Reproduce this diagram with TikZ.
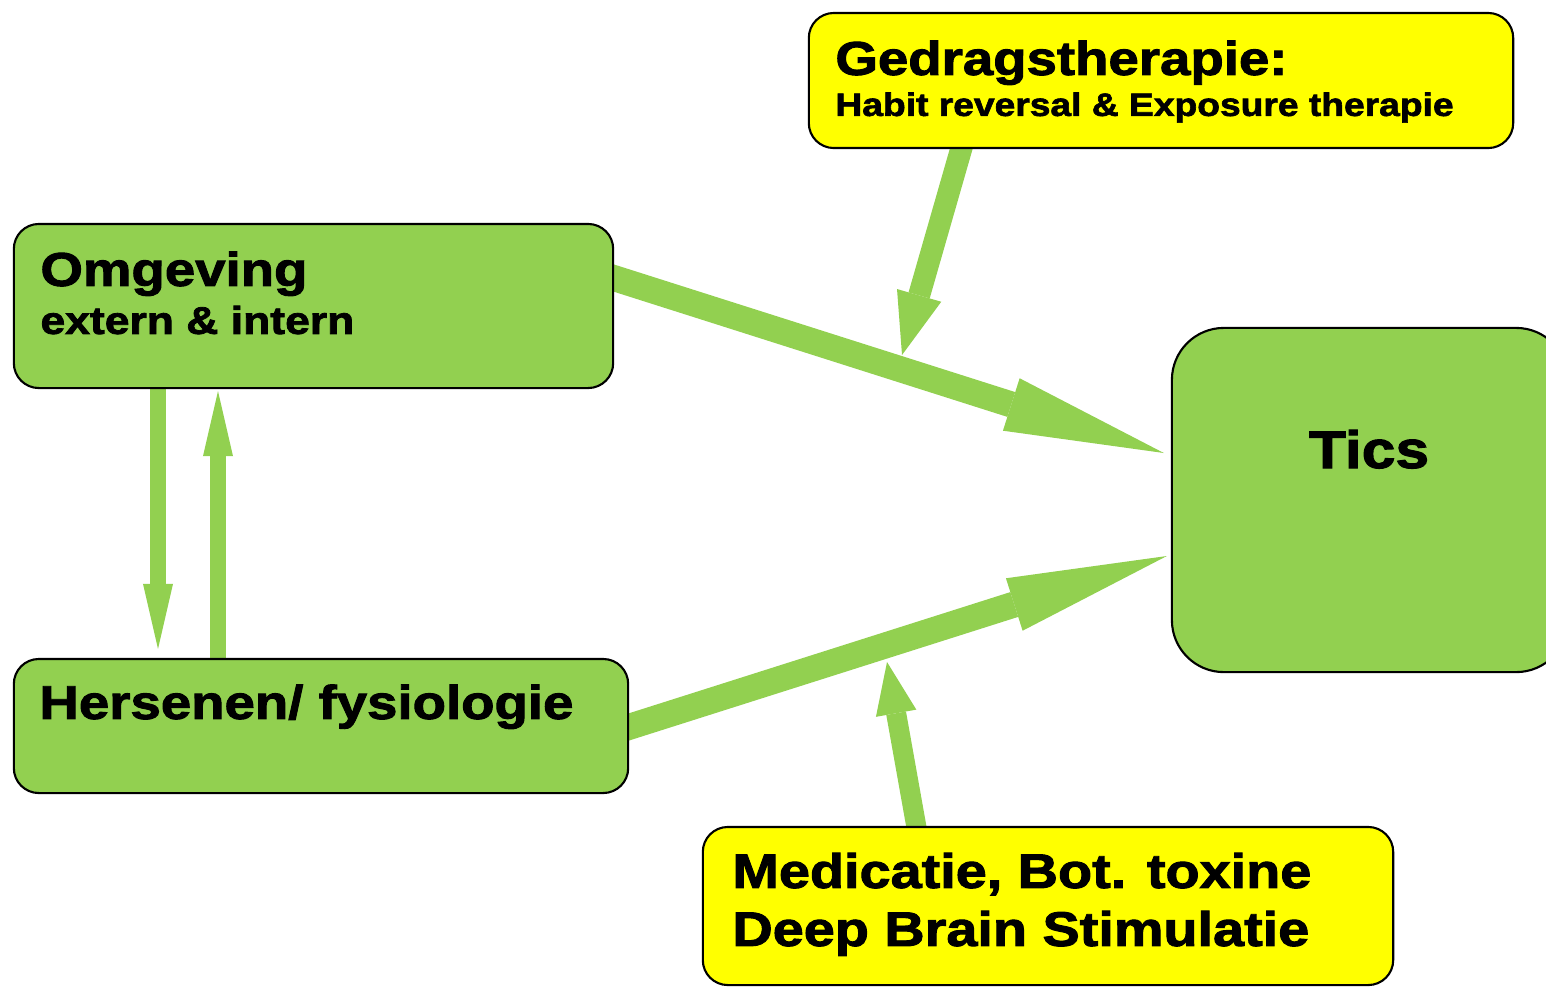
\documentclass[tikz,border=0pt]{standalone}
\usepackage{fontspec}
\setmainfont{Liberation Sans}[FakeStretch=1.15,BoldFeatures={FakeBold=2}]
\usetikzlibrary{arrows.meta,backgrounds}

\definecolor{ticgreen}{HTML}{92D050}
\definecolor{ticyellow}{HTML}{FFFF00}

\tikzset{
  box/.style={draw=black, line width=0.6pt, rounded corners=0.25cm, inner sep=0pt},
  greenbox/.style={box, fill=ticgreen},
  yellowbox/.style={box, fill=ticyellow},
  txt/.style={inner sep=0pt, anchor=base west, font=\bfseries},
  bigarrow/.style={draw=ticgreen, line width=0.26cm, -{Triangle[length=1.6cm,width=0.55cm,line width=0pt]}},
  midarrow/.style={draw=ticgreen, line width=0.22cm, -{Triangle[length=0.62cm,width=0.46cm,line width=0pt]}},
  smallarrow/.style={draw=ticgreen, line width=0.2cm, -{Triangle[length=0.52cm,width=0.41cm,line width=0pt]}},
  vertarrow/.style={draw=ticgreen, line width=0.15cm, -{Triangle[length=0.65cm,width=0.3cm,line width=0pt]}}
}

\begin{document}
\begin{tikzpicture}[x=0.01cm,y=-0.01cm]
\useasboundingbox (0,0) rectangle (1546,987);

% boxes
\node[greenbox, minimum width=5.99cm, minimum height=1.64cm] (omg) at (313.5,306) {};
\node[greenbox, minimum width=6.14cm, minimum height=1.34cm] (hers) at (321,726) {};
\node[greenbox, minimum width=3.96cm, minimum height=3.44cm, rounded corners=0.52cm] (tics) at (1370,500) {};
\node[yellowbox, minimum width=7.04cm, minimum height=1.35cm] (ged) at (1161,80.5) {};
\node[yellowbox, minimum width=6.90cm, minimum height=1.58cm] (med) at (1048,906) {};

% texts
\node[txt] (omgtitle) at ([shift={(27,63)}]omg.north west) {\fontsize{13.5}{16}\selectfont Omgeving};
\node[txt] (omgsub) at ([shift={(27,111)}]omg.north west) {\fontsize{11}{13}\selectfont extern \& intern};
\node[txt] (herstitle) at ([shift={(26,61)}]hers.north west) {\fontsize{13.5}{16}\selectfont Hersenen/ fysiologie};
\node[txt] (gedtitle) at ([shift={(27,63)}]ged.north west) {\fontsize{13.5}{16}\selectfont Gedragstherapie:};
\node[txt] (gedsub) at ([shift={(27,104)}]ged.north west) {\fontsize{9.2}{11}\selectfont Habit reversal \& Exposure therapie};
\node[txt] (medone) at ([shift={(30,62)}]med.north west) {\fontsize{13.8}{16}\selectfont Medicatie, Bot. toxine};
\node[txt] (medtwo) at ([shift={(30,120)}]med.north west) {\fontsize{13.8}{16}\selectfont Deep Brain Stimulatie};
\node[txt, anchor=base] (ticstitle) at ([shift={(-1,-32)}]tics.center) {\fontsize{15}{18}\selectfont Tics};

% points where the therapy arrows hit
\coordinate (gtip) at (902,355);
\coordinate (mtip) at (887,662);

\begin{scope}[on background layer]
\draw[bigarrow] ([shift={(-10,-31)}]omg.east) -- ([shift={(-7,-47)}]tics.west);
\draw[bigarrow] ([shift={(-10,4)}]hers.east) -- ([shift={(-4,56)}]tics.west);
\draw[midarrow] ([shift={(-197,-10)}]ged.south) -- (gtip);
\draw[smallarrow] ([shift={(-130,10)}]med.north) -- (mtip);
\draw[vertarrow] ([shift={(-155.5,-10)}]omg.south) -- ([shift={(-163,-9)}]hers.north);
\draw[vertarrow] ([shift={(-103,10)}]hers.north) -- ([shift={(-95.5,2)}]omg.south);
\end{scope}
\end{tikzpicture}
\end{document}
